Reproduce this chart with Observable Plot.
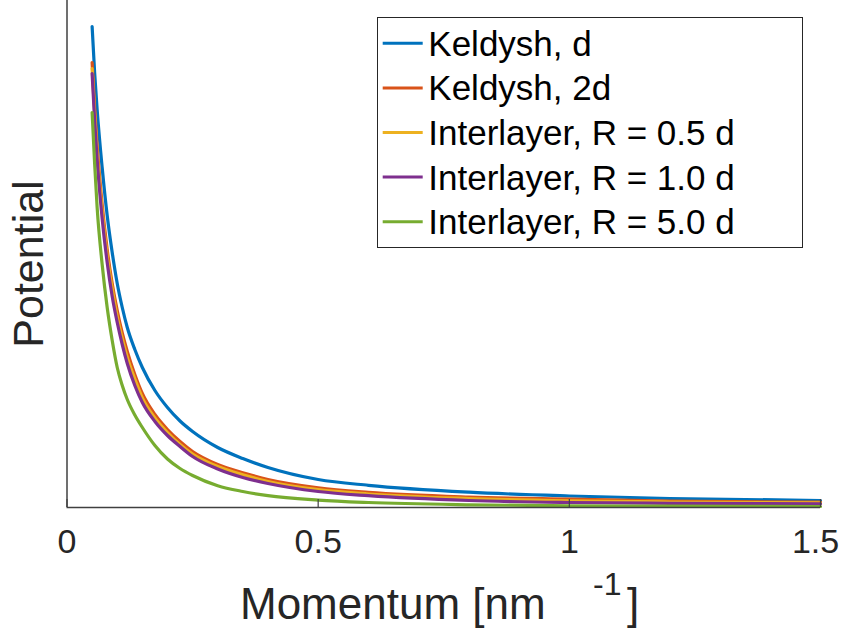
<!DOCTYPE html>
<html><head><meta charset="utf-8">
<script src="https://cdn.jsdelivr.net/npm/d3@7"></script>
<script src="https://cdn.jsdelivr.net/npm/@observablehq/plot@0.6"></script>
<style>body{margin:0;background:#fff;} #chart svg{display:block;}</style>
</head><body><div id="chart"></div>
<script>
// ---- data (potential in arbitrary units) ----
const momentum  = [0.05,0.055,0.06,0.07,0.08,0.09,0.10,0.11,0.12,0.135,0.15,0.175,0.20,0.225,0.25,0.30,0.35,0.40,0.50,0.60,0.80,1.00,1.20,1.50];
const keldyshD  = [4.81,4.35,3.98,3.40,2.92,2.55,2.24,2.00,1.80,1.58,1.40,1.17,1.00,0.865,0.76,0.60,0.49,0.40,0.28,0.222,0.153,0.115,0.090,0.070];
const keldysh2D = [4.45,4.00,3.62,3.03,2.58,2.24,1.97,1.745,1.56,1.33,1.14,0.93,0.78,0.66,0.56,0.43,0.347,0.28,0.197,0.152,0.105,0.083,0.065,0.053];
const inter05   = [4.39,3.95,3.55,2.96,2.52,2.19,1.91,1.69,1.50,1.285,1.095,0.895,0.75,0.63,0.535,0.41,0.327,0.26,0.178,0.135,0.090,0.067,0.055,0.046];
const inter10   = [4.34,3.87,3.48,2.89,2.45,2.11,1.85,1.63,1.44,1.22,1.05,0.86,0.72,0.61,0.51,0.385,0.30,0.24,0.16,0.118,0.070,0.050,0.042,0.037];
const inter50   = [3.95,3.44,3.00,2.43,2.00,1.67,1.40,1.22,1.08,0.925,0.80,0.62,0.485,0.39,0.32,0.218,0.16,0.118,0.074,0.050,0.027,0.017,0.014,0.010];
const seriesNames  = ["Keldysh, d","Keldysh, 2d","Interlayer, R = 0.5 d","Interlayer, R = 1.0 d","Interlayer, R = 5.0 d"];
const seriesColors = ["#0072BD","#D95319","#EDB120","#7E2F8E","#77AC30"];
const xTicks      = [0,0.5,1,1.5];
const xTickLabels = ["0","0.5","1","1.5"];
const yLabel = "Potential";

const seriesValues = [keldyshD,keldysh2D,inter05,inter10,inter50];
const rows = [];
seriesValues.forEach((vals,i)=>vals.forEach((v,j)=>rows.push({series:seriesNames[i],momentum:momentum[j],potential:v})));

const FONT = "'Liberation Sans', Arial, Helvetica, sans-serif";
const AX = "#404040";
const fmt = d=>xTickLabels[xTicks.indexOf(d)];

const svg = Plot.plot({
  width:842, height:632,
  marginLeft:66.5, marginRight:22, marginTop:0, marginBottom:125,
  style:{fontFamily:FONT, background:"#fff", color:"#262626"},
  x:{domain:[0,1.5]},
  y:{domain:[0,5.07], axis:null},
  color:{domain:seriesNames, range:seriesColors},
  marks:[
    Plot.line(rows,{x:"momentum",y:"potential",z:"series",stroke:"series",strokeWidth:3.2,curve:"monotone-x"}),
    Plot.ruleX([0],{stroke:AX,strokeWidth:1.5}),
    Plot.ruleY([0],{stroke:AX,strokeWidth:1.5}),
    Plot.ruleX(xTicks,{y1:0,y2:0.08,stroke:AX,strokeWidth:1.2}),
    Plot.axisX(xTicks.slice(0,-1),{tickSize:0,tickPadding:21,fontSize:34,fill:"#262626",tickFormat:fmt,label:null}),
    Plot.axisX(xTicks.slice(-1),{tickSize:0,tickPadding:21,fontSize:34,fill:"#262626",tickFormat:fmt,label:null,dx:-5})
  ]
});

const s = d3.select(svg);
// x-axis label with superscript
const xl = s.append("text").attr("font-family",FONT).attr("fill","#262626").attr("font-size",44)
  .attr("text-anchor","start").attr("x",240).attr("y",619);
xl.append("tspan").text("Momentum [nm");
xl.append("tspan").attr("x",593).attr("y",595).attr("font-size",32).text("-1");
xl.append("tspan").attr("x",627).attr("y",619).text("]");
// y-axis label
s.append("text").attr("font-family",FONT).attr("fill","#262626").attr("font-size",43)
  .attr("text-anchor","middle").attr("transform","translate(43,264) rotate(-90)").text(yLabel);

// legend
const lg = s.append("g").attr("text-anchor","start");
lg.append("rect").attr("x",377.5).attr("y",17.5).attr("width",425).attr("height",230)
  .attr("fill","#fff").attr("stroke","#262626").attr("stroke-width",1);
seriesNames.forEach((name,i)=>{
  const y = 43.3 + i*44.6;
  lg.append("line").attr("x1",382.7).attr("x2",422.7).attr("y1",y).attr("y2",y)
    .attr("stroke",seriesColors[i]).attr("stroke-width",3);
  lg.append("text").attr("x",428.3).attr("y",y+12.5).attr("font-family",FONT)
    .attr("font-size",35).attr("fill","#000").attr("text-anchor","start").text(name);
});

document.getElementById("chart").appendChild(svg);
</script></body></html>
